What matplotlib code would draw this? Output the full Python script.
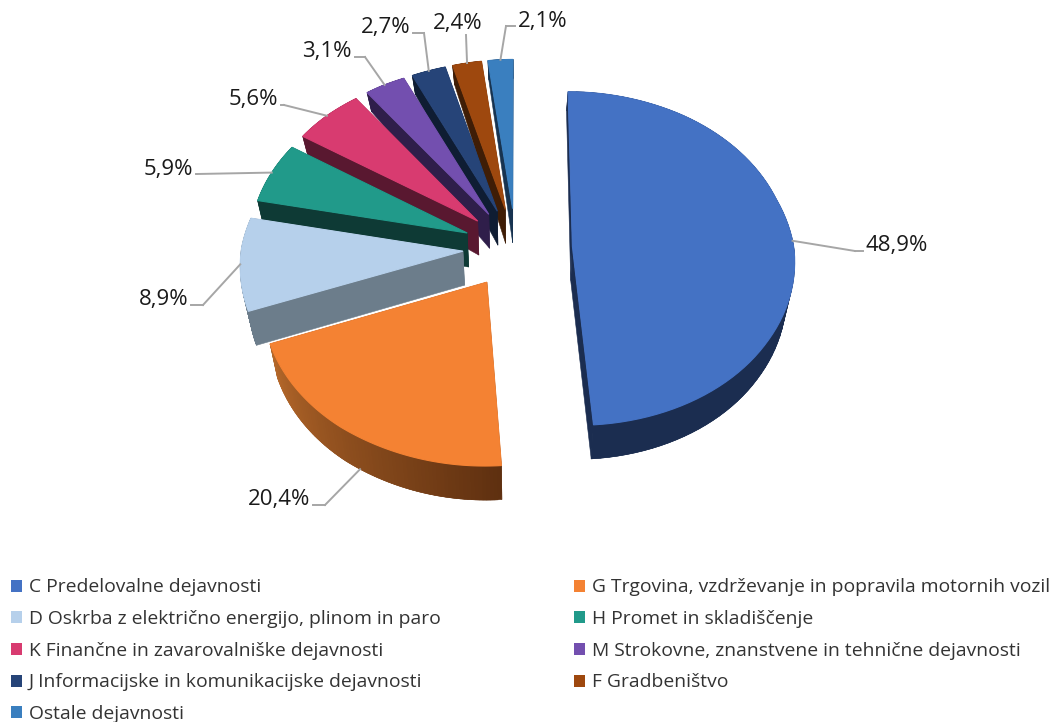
import matplotlib
matplotlib.use("Agg")
import matplotlib.pyplot as plt
import matplotlib.colors as mcolors
from matplotlib.patches import Patch
import numpy as np

plt.rcParams['font.family'] = ['Open Sans', 'DejaVu Sans']

names = ["C Predelovalne dejavnosti",
         "G Trgovina, vzdrževanje in popravila motornih vozil",
         "D Oskrba z električno energijo, plinom in paro",
         "H Promet in skladiščenje",
         "K Finančne in zavarovalniške dejavnosti",
         "M Strokovne, znanstvene in tehnične dejavnosti",
         "J Informacijske in komunikacijske dejavnosti",
         "F Gradbeništvo",
         "Ostale dejavnosti"]
shares = [48.9, 20.4, 8.9, 5.9, 5.6, 3.1, 2.7, 2.4, 2.1]
labels = ["48,9%", "20,4%", "8,9%", "5,9%", "5,6%", "3,1%", "2,7%", "2,4%", "2,1%"]

top_colors = ["#4472C4", "#F48233", "#B6D0EB", "#219A8A", "#D83B70",
              "#734FAF", "#264478", "#9E480E", "#3A7FBF"]
wall_colors = ["#1B2D50", "#5F3010", "#6C7D8B", "#0E3A35", "#591830",
               "#2F1E4A", "#0F1D33", "#3F1D06", "#173350"]
rim_end_colors = ["#1B2D50", "#B5682A", "#6C7D8B", "#0E3A35", "#591830",
                  "#2F1E4A", "#0F1D33", "#3F1D06", "#173350"]

# layout of the fake 3D pie, in pixels
CX, CY = 516, 248
SCALE_X = 226
BACK_Y, BEND_Y = 167, 12
explode = [0.255, 0.24, 0.24, 0.24, 0.24, 0.24, 0.24, 0.24, 0.24]
BOTTOM_SHRINK = 0.97
# width of the pie narrows towards the back
DEPTH_V = [-1.2, -1.0, -0.55, 0.0, 0.3, 0.85, 1.05, 1.24]
DEPTH_S = [1.06, 1.06, 1.02, 0.98, 0.95, 0.92, 0.90, 0.84]

# leader line elbows and label places
elbows = [(855, 251), (325, 505), (203, 305), (197, 174), (284, 105),
          (365, 57), (424, 33), (466, 35), (506, 26)]
label_xy = [(866, 245), (310, 499), (188, 300), (193, 169), (278, 100),
            (352, 52), (410, 28), (483, 24), (518, 22)]
label_ha = ["left", "right", "right", "right", "right", "right", "right", "right", "left"]


def project(u, v):
    return CX + SCALE_X * u * np.interp(v, DEPTH_V, DEPTH_S), CY - BACK_Y * v + BEND_Y * v ** 2


def wall_height(v):
    return np.interp(v, [0.25, 0.95], [34, 19])


def bottom_of(u, v):
    x, y = project(u, v)
    return CX + (x - CX) * BOTTOM_SHRINK, y + wall_height(v)


def draw_band(ax, us, vs, color, zorder):
    x1, y1 = project(us, vs)
    x2, y2 = bottom_of(us, vs)
    ax.fill(np.r_[x1, x2[::-1]], np.r_[y1, y2[::-1]], color=color, lw=0.4, zorder=zorder)


fig = plt.figure(figsize=(10.54, 7.22), dpi=100)
ax = fig.add_axes([0, 0, 1, 1])
ax.set_xlim(0, 1054)
ax.set_ylim(722, 0)
ax.axis("off")

edges = np.radians(np.r_[0, np.cumsum(shares)] * 3.6)
mids = (edges[:-1] + edges[1:]) / 2

# back slices first so the front ones paint over them
order = sorted(range(len(shares)), key=lambda i: -np.cos(mids[i]))
for z, i in enumerate(order):
    zo = 2 + z * 2
    a0 = explode[i] * np.sin(mids[i])
    b0 = explode[i] * np.cos(mids[i])
    theta = np.linspace(edges[i], edges[i + 1], 80)
    us = a0 + np.sin(theta)
    vs = b0 + np.cos(theta)

    # radial walls, straight from apex to rim
    for e in (edges[i], edges[i + 1]):
        draw_band(ax, np.array([a0, a0 + np.sin(e)]), np.array([b0, b0 + np.cos(e)]),
                  wall_colors[i], zo)

    # outer rim, shaded along the arc; pieces overlap so no seams show
    c0 = np.array(mcolors.to_rgb(wall_colors[i]))
    c1 = np.array(mcolors.to_rgb(rim_end_colors[i]))
    for k in range(len(theta) - 1):
        col = c0 + (c1 - c0) * (k / (len(theta) - 2))
        draw_band(ax, us[k:k + 3], vs[k:k + 3], tuple(col), zo)

    # top face
    x, y = project(np.r_[a0, us], np.r_[b0, vs])
    ax.fill(x, y, color=top_colors[i], lw=0.8, zorder=zo + 1)

    # leader line and label
    u_end, v_end = a0 + np.sin(mids[i]), b0 + np.cos(mids[i])
    if np.cos(mids[i]) < -0.5:
        px, py = bottom_of(u_end, v_end)
    else:
        px, py = project(u_end, v_end)
    ex, ey = elbows[i]
    ax.plot([px, ex], [py, ey], color="#A6A6A6", lw=1.4, zorder=60)
    lx, ly = label_xy[i]
    if i != 7:
        ax.plot([ex, lx + (3 if label_ha[i] == "right" else -3)], [ey, ey],
                color="#A6A6A6", lw=1.4, zorder=60)
    ax.text(lx, ly, labels[i], ha=label_ha[i], va="center", fontsize=16,
            color="#1A1A1A", zorder=70)

handles = [Patch(facecolor=top_colors[i], edgecolor="none", label=names[i])
           for i in range(len(names))]
# matplotlib fills the columns first: the left one gets five rows
order_legend = [0, 2, 4, 6, 8, 1, 3, 5, 7]
leg = ax.legend([handles[i] for i in order_legend], [names[i] for i in order_legend],
                ncols=2, loc="upper left", bbox_to_anchor=(11, 578.5),
                bbox_transform=ax.transData, frameon=False, fontsize=13.85,
                labelcolor="#333333", borderpad=0, borderaxespad=0,
                handlelength=0.57, handleheight=0.57, handletextpad=0.36,
                labelspacing=0.71, columnspacing=6.95)

fig.savefig("out.png", dpi=100)
